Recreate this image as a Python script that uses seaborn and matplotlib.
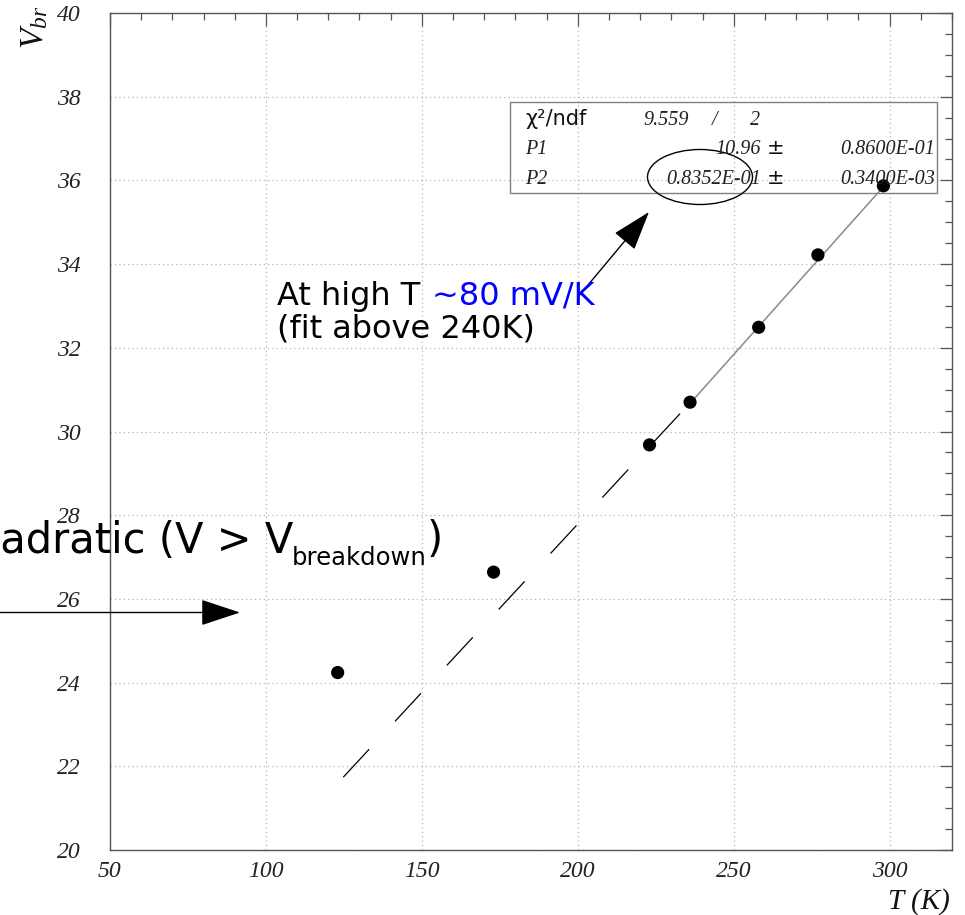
import numpy as np
import pandas as pd
import matplotlib
matplotlib.use("Agg")
import matplotlib.pyplot as plt
import seaborn as sns
from matplotlib.ticker import MultipleLocator
from matplotlib.patches import FancyArrowPatch, Ellipse, Rectangle, ArrowStyle

# ---- data ----
temps_K = [123, 173, 223, 236, 258, 277, 298]
vbr_V = [24.24, 26.64, 29.68, 30.70, 32.49, 34.22, 35.87]

# linear fit (above 240 K): V = P1 + P2 * T
fit_P1 = 10.96
fit_P2 = 0.08352
fit_range_T = [237, 298]

# dashed extrapolation guide (drawn by hand in the original)
dash_T = [124.8, 233.2]
dash_V = [21.74, 30.46]

x_ticks = [50, 100, 150, 200, 250, 300]
y_ticks = [20, 22, 24, 26, 28, 30, 32, 34, 36, 38, 40]

stats_rows = [
    ("χ²/ndf", "9.559", "/", "2"),
    ("P1", "10.96", "±", "0.8600E-01"),
    ("P2", "0.8352E-01", "±", "0.3400E-03"),
]

# ---- style ----
sns.set_theme(style="white")
plt.rcParams["font.family"] = ["DejaVu Sans"]
plt.rcParams["mathtext.fontset"] = "custom"
plt.rcParams["mathtext.it"] = "Liberation Serif:italic"
plt.rcParams["mathtext.rm"] = "Liberation Serif"

W, H = 965, 915
fig = plt.figure(figsize=(W / 100, H / 100), dpi=100)
ax = fig.add_axes([110 / W, 1 - 850 / H, 842 / W, 837 / H])

def fx(px):
    return px / W

def fy(py):
    return 1 - py / H

df = pd.DataFrame({"T": temps_K, "V": vbr_V})
fit_T = np.array(fit_range_T, dtype=float)
fit_df = pd.DataFrame({"T": fit_T, "V": fit_P1 + fit_P2 * fit_T})
dash_df = pd.DataFrame({"T": dash_T, "V": dash_V})

sns.lineplot(data=fit_df, x="T", y="V", ax=ax, color="#8a8a8a", lw=1.1, zorder=2)
sns.lineplot(data=dash_df, x="T", y="V", ax=ax, color="black", lw=0.9,
             linestyle=(0, (30.5, 30.5)), zorder=2)
sns.scatterplot(data=df, x="T", y="V", ax=ax, color="black", s=90,
                edgecolor="none", zorder=3)

ax.set_xlim(50, 320)
ax.set_ylim(20, 40)
ax.set_xticks(x_ticks)
ax.set_yticks(y_ticks)
ax.xaxis.set_minor_locator(MultipleLocator(10))
ax.yaxis.set_minor_locator(MultipleLocator(0.5))
ax.set_xlabel("")
ax.set_ylabel("")

ax.set_axisbelow(True)
ax.grid(True, which="major", color="#b5b5b5", linestyle=(0, (1, 2.5)), lw=0.9)

for s in ax.spines.values():
    s.set_color("#555555")
    s.set_linewidth(1.0)

ax.tick_params(which="both", direction="in", top=True, right=True,
               color="#555555", width=0.9)
ax.tick_params(which="major", length=9)
ax.tick_params(which="minor", length=5)
ax.tick_params(axis="x", which="major", pad=8)
ax.tick_params(axis="y", which="major", pad=21)
for lab in ax.get_xticklabels() + ax.get_yticklabels():
    lab.set_fontfamily("Liberation Serif")
    lab.set_fontstyle("italic")
    lab.set_fontsize(17)
    lab.set_color("#222222")

# axis titles
fig.text(fx(950), fy(909), "T (K)", ha="right", va="baseline",
         family="Liberation Serif", style="italic", fontsize=21, color="#111111")
fig.text(fx(34), fy(6), r"$V_{br}$", rotation=90, ha="center", va="top",
         fontsize=24, color="#111111")

# stats box
fig.add_artist(Rectangle((fx(510), fy(193)), 427 / W, 91 / H, transform=fig.transFigure,
                         fill=False, edgecolor="#808080", lw=1.0))
serif = dict(family="Liberation Serif", style="italic", fontsize=14.5, color="#222222")
row_y = [125, 154, 184]
fig.text(fx(525), fy(row_y[0]), stats_rows[0][0], ha="left", va="baseline",
         fontsize=15, color="#111111")
fig.text(fx(643), fy(row_y[0]), stats_rows[0][1], ha="left", va="baseline", **serif)
fig.text(fx(712), fy(row_y[0]), stats_rows[0][2], ha="left", va="baseline", **serif)
fig.text(fx(750), fy(row_y[0]), stats_rows[0][3], ha="left", va="baseline", **serif)
for i in (1, 2):
    r = stats_rows[i]
    fig.text(fx(525), fy(row_y[i]), r[0], ha="left", va="baseline", **serif)
    fig.text(fx(761), fy(row_y[i]), r[1], ha="right", va="baseline", **serif)
    fig.text(fx(767), fy(row_y[i]), r[2], ha="left", va="baseline", fontsize=15,
             color="#111111")
    fig.text(fx(935), fy(row_y[i]), r[3], ha="right", va="baseline", **serif)

fig.add_artist(Ellipse((fx(700), fy(177)), 105 / W, 55 / H, transform=fig.transFigure,
                       fill=False, edgecolor="black", lw=1.0))

style = ArrowStyle("-|>", head_length=25.1, head_width=8.3)
fig.add_artist(FancyArrowPatch((fx(578), fy(297)), (fx(649), fy(212)),
                               transform=fig.transFigure, arrowstyle=style,
                               mutation_scale=1, color="black", lw=1.0,
                               shrinkA=0, shrinkB=0))
fig.add_artist(FancyArrowPatch((fx(-5), fy(612.5)), (fx(240), fy(612.5)),
                               transform=fig.transFigure, arrowstyle=style,
                               mutation_scale=1, color="black", lw=1.0,
                               shrinkA=0, shrinkB=0))

# annotations
fig.text(fx(277), fy(305), "At high T ", ha="left", va="baseline", fontsize=23,
         color="black")
fig.text(fx(432), fy(305), "~80 mV/K", ha="left", va="baseline", fontsize=23,
         color="#0000ff")
fig.text(fx(277), fy(337), "(fit above 240K)", ha="left", va="baseline", fontsize=23,
         color="black")

fig.text(fx(293), fy(552), "Quadratic (V > V", ha="right", va="baseline",
         fontsize=30, color="black")
fig.text(fx(292), fy(565), "breakdown", ha="left", va="baseline",
         fontsize=17.5, color="black")
fig.text(fx(443), fy(552), ")", ha="right", va="baseline",
         fontsize=30, color="black")

fig.savefig("out.png", dpi=100)
